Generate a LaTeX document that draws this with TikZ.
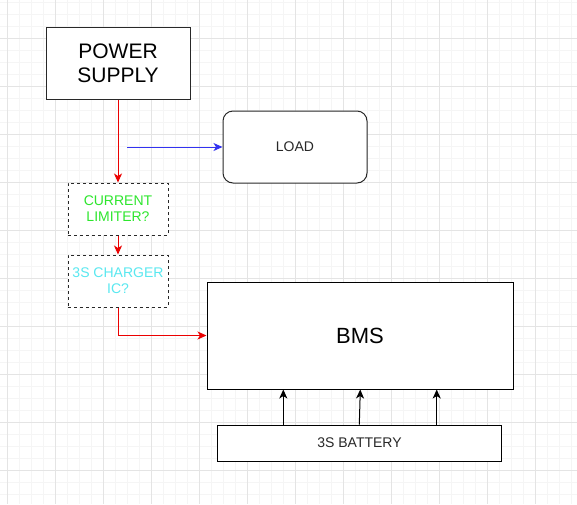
\documentclass[tikz,border=0pt]{standalone}
\usepackage{fontspec}
\setmainfont{Liberation Sans}
\usetikzlibrary{arrows.meta}
\definecolor{gridminor}{RGB}{245,245,245}
\definecolor{gridmajor}{RGB}{228,228,228}
\definecolor{boxline}{RGB}{40,40,40}
\definecolor{txtgrey}{RGB}{40,40,40}
\definecolor{limgreen}{RGB}{45,230,45}
\definecolor{chcyan}{RGB}{90,232,240}
\definecolor{arrred}{RGB}{235,0,0}
\definecolor{arrblue}{RGB}{50,50,240}
\tikzset{
  blk/.style={draw=boxline, line width=1pt, fill=white, inner sep=0pt, align=center},
  dashbox/.style={draw=boxline, line width=1pt, fill=white, inner sep=0pt, align=center, dash pattern=on 3pt off 3pt},
  conn/.style={line width=1pt, -{Stealth[length=9pt,width=8pt,inset=2.5pt]}},
}
\begin{document}
\begin{tikzpicture}[x=1pt,y=-1pt]
\useasboundingbox (0,0) rectangle (577,504);
\fill[white] (0,0) rectangle (577,504);
% grid
\foreach \i in {0,...,48} {\draw[gridminor,line width=0.6pt] ({7.3+12*\i},0) -- ({7.3+12*\i},504);}
\foreach \i in {0,...,42} {\draw[gridminor,line width=0.6pt] (0,{2.3+12*\i}) -- (577,{2.3+12*\i});}
\foreach \i in {0,...,12} {\draw[gridmajor,line width=0.7pt] ({7.3+48*\i},0) -- ({7.3+48*\i},504);}
\foreach \i in {0,...,10} {\draw[gridmajor,line width=0.7pt] (0,{38.3+48*\i}) -- (577,{38.3+48*\i});}
% nodes
\node[blk, minimum width=144pt, minimum height=72pt, font=\fontsize{21}{24}\selectfont, text=black] (ps) at (118,63) {POWER\\SUPPLY};
\node[blk, rounded corners=10pt, minimum width=144pt, minimum height=72pt, font=\fontsize{14}{16}\selectfont, text=txtgrey] (load) at (295,147) {LOAD};
\node[dashbox, minimum width=100pt, minimum height=52pt, font=\fontsize{14}{16}\selectfont, text=limgreen] (cl) at (118,209) {CURRENT\\LIMITER?};
\node[dashbox, minimum width=100pt, minimum height=52pt, font=\fontsize{14}{16}\selectfont, text=chcyan] (ch) at (118,281) {3S CHARGER\\IC?};
\node[blk, draw=black, minimum width=306pt, minimum height=107pt, font=\fontsize{22}{24}\selectfont, text=black] (bms) at (360,335.5) {BMS};
\node[blk, draw=black, minimum width=284pt, minimum height=36pt, font=\fontsize{14}{16}\selectfont, text=txtgrey] (bat) at (359.5,443) {3S BATTERY};
% coordinates
\coordinate (bs) at (127,147);
\coordinate (b1) at (283.3,0);
\coordinate (b2a) at (359.3,0);
\coordinate (b2b) at (360.3,0);
\coordinate (b3) at (436.7,0);
% connectors
\draw[conn, arrred] (ps.south) -- (cl.north);
\draw[conn, arrblue] (bs) -- (load.west);
\draw[conn, arrred] (cl.south) -- (ch.north);
\draw[conn, arrred] (ch.south) |- (bms.west);
\draw[conn, black] (bat.north -| b1) -- (bms.south -| b1);
\draw[conn, black] (bat.north -| b2a) -- (bms.south -| b2b);
\draw[conn, black] (bat.north -| b3) -- (bms.south -| b3);
\end{tikzpicture}
\end{document}
